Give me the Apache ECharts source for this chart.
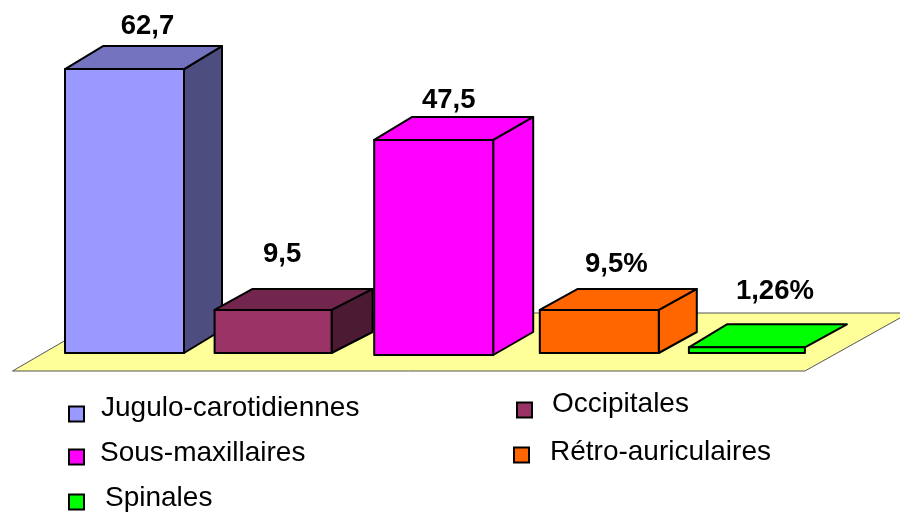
<!DOCTYPE html>
<html>
<head>
<meta charset="utf-8">
<title>Adenopathies</title>
<script src="https://cdn.jsdelivr.net/npm/echarts@6/dist/echarts.min.js"></script>
<style>
html, body { margin: 0; padding: 0; background: #fff; }
#chart { width: 900px; height: 513px; }
</style>
</head>
<body>
<div id="chart"></div>
<script>
// data
var categories = ['Jugulo-carotidiennes', 'Occipitales', 'Sous-maxillaires', 'Rétro-auriculaires', 'Spinales'];
var values = [62.7, 9.5, 47.5, 9.5, 1.26];
var valueLabels = ['62,7', '9,5', '47,5', '9,5%', '1,26%'];

// bar colours: front, top, side
var frontColors = ['#9999ff', '#993366', '#ff00ff', '#ff6600', '#00ff00'];
var topColors = ['#7373bf', '#73264d', '#ff00ff', '#ff6600', '#00ff00'];
var sideColors = ['#4d4d80', '#4d1a33', '#ff00ff', '#ff6600', '#00ff00'];

// the original was drawn by hand, so each bar sits a little off the band centre
var shiftX = [0, -7, -2, 8, 0];
var shiftY = [0, 0, 2, 0, 0];
var barWidth = [119, 117, 119, 119, 116];
var depthX = [38, 41, 40, 38, 42];
var depthY = [23, 21, 23, 21, 23];
var labelDx = [23, 9, 15, 17, 28];
var labelDy = [57, 70, 53, 60, 70];

// legend box left/top and text gaps
var legendPos = [[68, 394], [516, 390], [68, 439], [513, 438], [68, 484]];
var legendTextLeft = [12, 15, 11, 16, 16];
var legendTextLift = [12, 12, 8, 6, 8];

var myChart = echarts.init(document.getElementById('chart'));

function renderFloor(params, api) {
    var o = api.coord([0, 0]);
    var right = api.coord([4, 0])[0] + 58;
    var left = o[0] - 112;
    return {
        type: 'polygon',
        shape: { points: [[left, o[1] + 18], [right, o[1] + 18], [right + 104, o[1] - 40], [left + 100, o[1] - 40]] },
        style: { fill: '#ffff99', stroke: '#555', lineWidth: 1 }
    };
}

function renderBar(params, api) {
    var i = api.value(0);
    var p = api.coord([i, api.value(1)]);
    var b = api.coord([i, 0]);
    var l = p[0] + shiftX[i] - barWidth[i] / 2;
    var r = l + barWidth[i];
    var t = p[1] + shiftY[i];
    var y0 = b[1] + shiftY[i];
    var dx = depthX[i], dy = depthY[i];
    var line = { stroke: '#000', lineWidth: 2, lineJoin: 'round' };
    var children = [
        {
            type: 'polygon',
            shape: { points: [[l, t], [l + 38, t - dy], [r + dx, t - dy], [r, t]] },
            style: Object.assign({ fill: topColors[i] }, line)
        },
        {
            type: 'rect',
            shape: { x: l, y: t, width: r - l, height: y0 - t },
            style: Object.assign({ fill: frontColors[i] }, line)
        },
        {
            type: 'text',
            style: {
                x: l + barWidth[i] / 2 + labelDx[i],
                y: t - labelDy[i],
                text: valueLabels[i],
                fill: '#000',
                font: 'bold 27.5px "Liberation Sans", Arial, sans-serif',
                textAlign: 'center',
                verticalAlign: 'top'
            }
        }
    ];
    // the flat bar shows no side face in the original
    if (y0 - t > 10) {
        children.unshift({
            type: 'polygon',
            shape: { points: [[r, y0], [r + dx, y0 - dy], [r + dx, t - dy], [r, t]] },
            style: Object.assign({ fill: sideColors[i] }, line)
        });
    }
    return { type: 'group', children: children };
}

var series = [{
    type: 'custom',
    name: 'sol',
    silent: true,
    renderItem: renderFloor,
    data: [[0, 0]]
}];
var legends = [];

categories.forEach(function (name, i) {
    series.push({
        type: 'custom',
        name: name,
        renderItem: renderBar,
        itemStyle: { color: frontColors[i] },
        encode: { x: 0, y: 1 },
        data: [[i, values[i]]]
    });
    legends.push({
        data: [name],
        left: legendPos[i][0],
        top: legendPos[i][1],
        padding: 0,
        icon: 'rect',
        itemWidth: 15,
        itemHeight: 15,
        itemStyle: { borderColor: '#000', borderWidth: 2 },
        selectedMode: false,
        formatter: '{a|{name}}',
        textStyle: {
            rich: {
                a: {
                    fontFamily: '"Liberation Sans", Arial, sans-serif',
                    fontSize: 28,
                    color: '#000',
                    padding: [0, 0, legendTextLift[i], legendTextLeft[i]]
                }
            }
        }
    });
});

myChart.setOption({
    animation: false,
    legend: legends,
    grid: { left: 46.7, width: 778, top: 36, height: 317 },
    xAxis: { type: 'category', data: categories, show: false },
    yAxis: { type: 'value', min: 0, max: 70, show: false },
    series: series
});
</script>
</body>
</html>
